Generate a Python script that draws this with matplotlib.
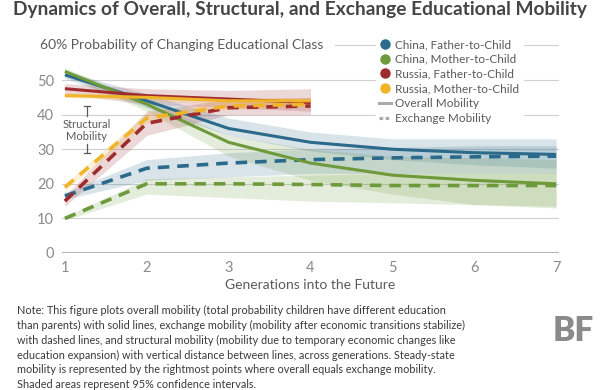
import numpy as np
import matplotlib.pyplot as plt
from matplotlib.lines import Line2D

plt.rcParams['font.family'] = ['Lato', 'DejaVu Sans']

gens = np.array([1, 2, 3, 4, 5, 6, 7])
gens_ru = np.array([1, 2, 3, 4])

# China, father-to-child
cn_f_all = [51.5, 44.0, 36.0, 32.0, 30.0, 29.0, 28.5]
cn_f_all_lo = [50.5, 42.0, 34.0, 29.5, 27.0, 25.5, 24.5]
cn_f_all_hi = [52.5, 46.0, 39.0, 35.0, 33.0, 33.0, 33.0]
cn_f_ex = [16.5, 24.5, 26.0, 27.0, 27.5, 27.8, 28.0]
cn_f_ex_lo = [15.5, 21.0, 22.0, 23.0, 23.0, 23.0, 23.0]
cn_f_ex_hi = [17.5, 27.0, 29.0, 30.0, 30.5, 31.0, 31.0]

# China, mother-to-child
cn_m_all = [52.5, 43.0, 32.0, 26.0, 22.5, 21.0, 20.0]
cn_m_all_lo = [51.5, 41.0, 28.0, 21.0, 17.0, 14.0, 13.0]
cn_m_all_hi = [53.5, 44.0, 34.0, 30.0, 28.0, 27.5, 27.0]
cn_m_ex = [10.0, 20.0, 20.0, 19.8, 19.5, 19.5, 19.5]
cn_m_ex_lo = [9.5, 17.0, 16.0, 15.0, 14.5, 14.0, 13.5]
cn_m_ex_hi = [10.5, 21.5, 22.0, 22.5, 23.0, 23.0, 23.0]

# Russia, father-to-child
ru_f_all = [47.5, 45.5, 44.5, 43.5]
ru_f_all_lo = [46.0, 43.0, 42.0, 41.0]
ru_f_all_hi = [49.0, 47.5, 47.0, 47.5]
ru_f_ex = [15.0, 37.5, 42.0, 42.5]
ru_f_ex_lo = [13.5, 34.0, 40.0, 40.0]
ru_f_ex_hi = [16.5, 41.0, 44.5, 45.0]

# Russia, mother-to-child
ru_m_all = [45.5, 45.0, 44.0, 44.0]
ru_m_all_lo = [45.0, 44.0, 43.0, 43.0]
ru_m_all_hi = [46.5, 46.0, 45.0, 45.0]
ru_m_ex = [19.0, 39.0, 42.5, 43.0]
ru_m_ex_lo = [18.0, 37.5, 41.5, 42.0]
ru_m_ex_hi = [20.0, 40.5, 44.0, 44.5]

BLUE = '#2b6a8a'
GREEN = '#6e9a3c'
RED = '#9e2c2e'
YELLOW = '#f0b429'
GRAY = '#5a5a5a'
GRID = '#d0d0d0'

fig = plt.figure(figsize=(6, 3.9), dpi=100)
ax = fig.add_axes([0.104, 0.3513, 0.827, 0.541])
ax.set_xlim(0.97, 7.03)
ax.set_ylim(0, 61)

for s in ax.spines.values():
    s.set_visible(False)

for yv in [10, 20, 30, 40, 50]:
    ax.axhline(yv, color=GRID, lw=0.8, zorder=0)
ax.axhline(0, color='#b5b5b5', lw=2.2, zorder=0)
ax.plot([4.3, 7.03], [60, 60], color=GRID, lw=0.8, zorder=0)

series = [
    (gens, cn_f_all, cn_f_all_lo, cn_f_all_hi, cn_f_ex, cn_f_ex_lo, cn_f_ex_hi, BLUE),
    (gens, cn_m_all, cn_m_all_lo, cn_m_all_hi, cn_m_ex, cn_m_ex_lo, cn_m_ex_hi, GREEN),
    (gens_ru, ru_f_all, ru_f_all_lo, ru_f_all_hi, ru_f_ex, ru_f_ex_lo, ru_f_ex_hi, RED),
    (gens_ru, ru_m_all, ru_m_all_lo, ru_m_all_hi, ru_m_ex, ru_m_ex_lo, ru_m_ex_hi, YELLOW),
]

for x, a, alo, ahi, e, elo, ehi, c in series:
    ax.fill_between(x, alo, ahi, color=c, alpha=0.18, lw=0, zorder=1)
    ax.fill_between(x, elo, ehi, color=c, alpha=0.18, lw=0, zorder=1)
for x, a, alo, ahi, e, elo, ehi, c in series:
    ax.plot(x, a, color=c, lw=2.2, zorder=3, solid_capstyle='butt')
    ax.plot(x, e, color=c, lw=2.6, dashes=(3.2, 2.2), zorder=3)

ax.set_xticks(gens)
ax.set_yticks([0, 10, 20, 30, 40, 50])
ax.tick_params(length=0, labelsize=10.5, colors='#8a8a8a', pad=6)
ax.set_xlabel('Generations into the Future', fontsize=10, color=GRAY, labelpad=3)

fig.text(40 / 600, 1 - 45 / 390, '60% Probability of Changing Educational Class',
         fontsize=10, color=GRAY, va='center', ha='left')

# structural mobility marker
sx = 1.27
ax.plot([sx, sx], [39.5, 42.5], color=GRAY, lw=0.9)
ax.plot([sx, sx], [28.8, 31.5], color=GRAY, lw=0.9)
ax.plot([sx - 0.04, sx + 0.04], [42.5, 42.5], color=GRAY, lw=0.9)
ax.plot([sx - 0.04, sx + 0.04], [28.8, 28.8], color=GRAY, lw=0.9)
ax.text(sx, 35.3, 'Structural\nMobility', ha='center', va='center',
        fontsize=8, color=GRAY, linespacing=1.1)

handles = [
    Line2D([], [], ls='none', marker='o', ms=6.5, color=BLUE),
    Line2D([], [], ls='none', marker='o', ms=6.5, color=GREEN),
    Line2D([], [], ls='none', marker='o', ms=6.5, color=RED),
    Line2D([], [], ls='none', marker='o', ms=6.5, color=YELLOW),
    Line2D([], [], color='#aaaaaa', lw=2.2),
    Line2D([], [], color='#aaaaaa', lw=2.2, dashes=(1.2, 0.8)),
]
labels = ['China, Father-to-Child', 'China, Mother-to-Child',
          'Russia, Father-to-Child', 'Russia, Mother-to-Child',
          'Overall Mobility', 'Exchange Mobility']
leg = fig.legend(handles, labels, loc='upper left',
                 bbox_to_anchor=(376 / 600, 1 - 36 / 390),
                 frameon=True, facecolor='white', edgecolor='white',
                 framealpha=1, fontsize=8.5, handlelength=1.0,
                 handletextpad=0.4, labelspacing=0.32, borderpad=0.25,
                 borderaxespad=0, fancybox=False)
for t in leg.get_texts():
    t.set_color(GRAY)

fig.text(0.5, 1 - 10 / 390,
         'Dynamics of Overall, Structural, and Exchange Educational Mobility',
         ha='center', va='center', fontsize=13.8, fontweight='bold', color='#454545')

note = ('Note: This figure plots overall mobility (total probability children have different education\n'
        'than parents) with solid lines, exchange mobility (mobility after economic transitions stabilize)\n'
        'with dashed lines, and structural mobility (mobility due to temporary economic changes like\n'
        'education expansion) with vertical distance between lines, across generations. Steady-state\n'
        'mobility is represented by the rightmost points where overall equals exchange mobility.\n'
        'Shaded areas represent 95% confidence intervals.')
fig.text(17 / 600, 1 - 305 / 390, note, ha='left', va='top', fontsize=7.8,
         color='#3a3a3a', linespacing=1.42)

fig.text(573 / 600, 1 - 331 / 390, 'BF', ha='center', va='center', fontsize=24,
         fontweight='heavy', color='#8a8a8a')

fig.savefig('out.png', dpi=100)
